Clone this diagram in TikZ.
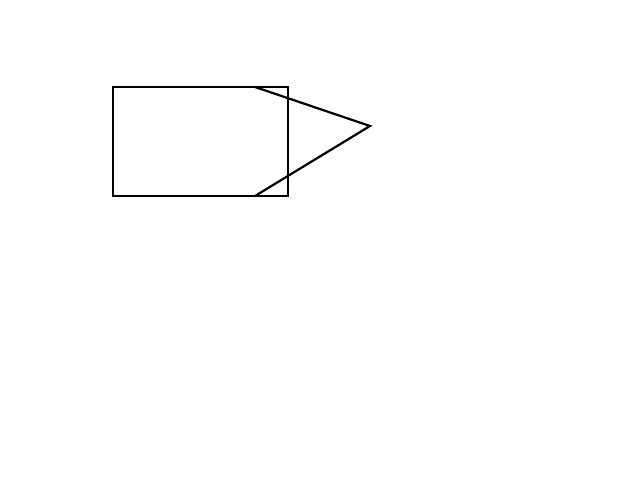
\documentclass[tikz,border=0pt]{standalone}
\begin{document}
\begin{tikzpicture}[x=1pt,y=-1pt,shape line/.style={draw=black,line width=2.2pt}]
\useasboundingbox[fill=white] (0,0) rectangle (640,482);
\draw[shape line] (113,87) rectangle (288,196);
\coordinate (t1) at (255,87);
\coordinate (tip) at (370,126);
\coordinate (t2) at (255,196);
\draw[shape line,line join=miter] (t1) -- (tip) -- (t2);
\end{tikzpicture}
\end{document}
